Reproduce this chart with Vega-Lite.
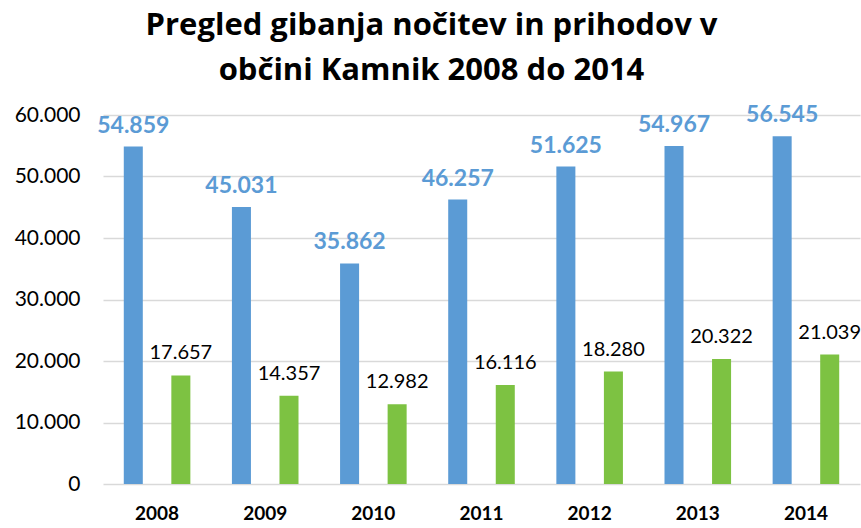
{
  "$schema": "https://vega.github.io/schema/vega-lite/v6.json",
  "width": 757,
  "height": 369,
  "autosize": {"type": "none"},
  "padding": {"left": 103, "top": 115, "right": 1, "bottom": 44},
  "title": {
    "text": ["Pregled gibanja nočitev in prihodov v", "občini Kamnik 2008 do 2014"],
    "font": "Open Sans",
    "fontSize": 31,
    "fontWeight": "bold",
    "color": "#000000",
    "anchor": "middle",
    "dx": -50,
    "offset": 17,
    "lineHeight": 45
  },
  "config": {
    "locale": {"number": {"decimal": ",", "thousands": ".", "grouping": [3], "currency": ["", "€"]}},
    "view": {"stroke": null},
    "font": "Lato"
  },
  "data": {
    "values": [
      {"year": "2008", "series": "Nočitve", "value": 54859},
      {"year": "2008", "series": "Prihodi", "value": 17657},
      {"year": "2009", "series": "Nočitve", "value": 45031},
      {"year": "2009", "series": "Prihodi", "value": 14357},
      {"year": "2010", "series": "Nočitve", "value": 35862},
      {"year": "2010", "series": "Prihodi", "value": 12982},
      {"year": "2011", "series": "Nočitve", "value": 46257},
      {"year": "2011", "series": "Prihodi", "value": 16116},
      {"year": "2012", "series": "Nočitve", "value": 51625},
      {"year": "2012", "series": "Prihodi", "value": 18280},
      {"year": "2013", "series": "Nočitve", "value": 54967},
      {"year": "2013", "series": "Prihodi", "value": 20322},
      {"year": "2014", "series": "Nočitve", "value": 56545},
      {"year": "2014", "series": "Prihodi", "value": 21039}
    ]
  },
  "encoding": {
    "x": {
      "field": "year",
      "type": "nominal",
      "scale": {"paddingInner": 0, "paddingOuter": 0},
      "axis": {
        "title": null,
        "labelAngle": 0,
        "labelFontSize": 19,
        "labelFontWeight": "bold",
        "labelColor": "#000000",
        "labelPadding": 20,
        "ticks": false,
        "domain": false
      }
    },
    "xOffset": {
      "field": "series",
      "type": "nominal",
      "scale": {"domain": ["Nočitve", "Prihodi"], "paddingInner": 0.6, "paddingOuter": 0.437}
    },
    "y": {
      "field": "value",
      "type": "quantitative",
      "scale": {"domain": [0, 60000], "nice": false},
      "axis": {
        "title": null,
        "values": [0, 10000, 20000, 30000, 40000, 50000, 60000],
        "format": ",d",
        "labelFontSize": 21,
        "labelColor": "#000000",
        "labelPadding": 23,
        "ticks": false,
        "domain": false,
        "gridColor": "#d9d9d9",
        "gridWidth": 1.5
      }
    }
  },
  "layer": [
    {
      "mark": {"type": "bar"},
      "encoding": {
        "color": {
          "field": "series",
          "type": "nominal",
          "scale": {"domain": ["Nočitve", "Prihodi"], "range": ["#5b9bd5", "#7dc242"]},
          "legend": null
        }
      }
    },
    {
      "transform": [{"filter": "datum.series === 'Nočitve'"}],
      "mark": {"type": "text", "font": "Lato", "fontWeight": "bold", "fontSize": 23, "color": "#5b9bd5", "baseline": "alphabetic", "align": "center", "dy": -14},
      "encoding": {"text": {"field": "value", "type": "quantitative", "format": ",d"}}
    },
    {
      "transform": [{"filter": "datum.series === 'Prihodi'"}],
      "mark": {"type": "text", "font": "Lato", "fontSize": 20, "color": "#000000", "baseline": "alphabetic", "align": "center", "dy": -16},
      "encoding": {"text": {"field": "value", "type": "quantitative", "format": ",d"}}
    }
  ]
}
